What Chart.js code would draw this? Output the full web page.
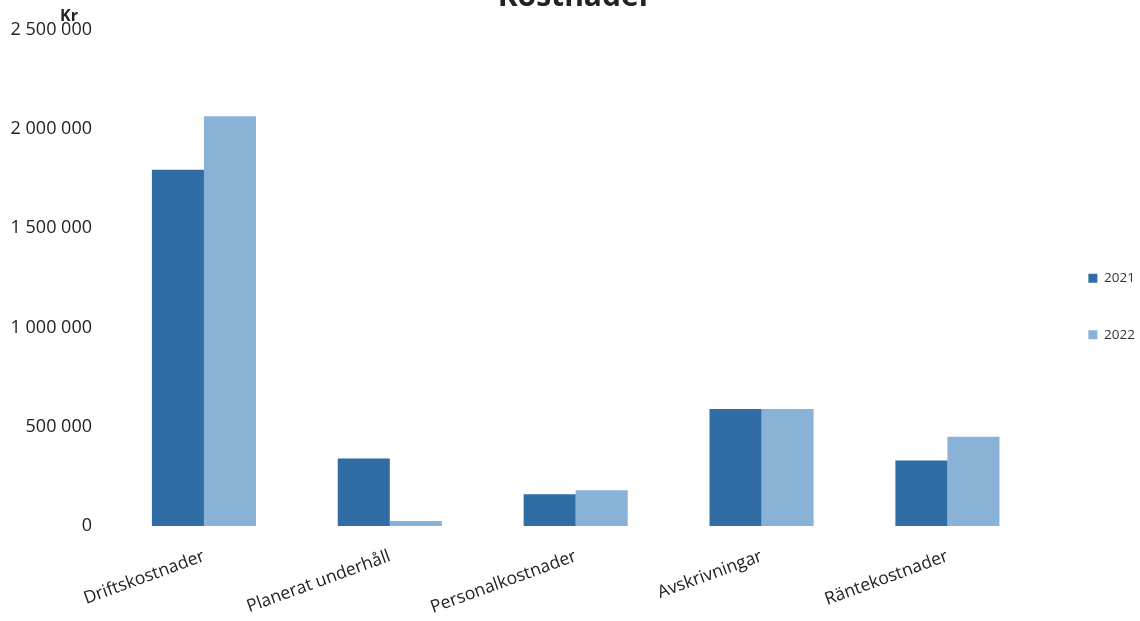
<!DOCTYPE html>
<html>
<head>
<meta charset="utf-8">
<script src="https://cdn.jsdelivr.net/npm/chart.js@4"></script>
<style>
html,body{margin:0;padding:0;background:#fff;}
#wrap{width:1140px;height:621px;position:relative;}
</style>
</head>
<body>
<div id="wrap"><canvas id="c"></canvas></div>
<script>
const categories = ["Driftskostnader", "Planerat underhåll", "Personalkostnader", "Avskrivningar", "Räntekostnader"];
const values2021 = [1795000, 340000, 160000, 590000, 330000];
const values2022 = [2065000, 25000, 180000, 590000, 450000];
const seriesLabels = ["2021", "2022"];
const titleText = "Kostnader";
const unitText = "Kr";

const FONT = "'Open Sans', 'Liberation Sans', sans-serif";

const overlayText = {
  id: 'overlayText',
  afterLayout(chart) {
    const lg = chart.legend;
    if (lg) {
      lg.bottom -= 26;
      lg.height = lg.bottom - lg.top;
      lg.left += 5; lg.right += 5;
    }
  },
  afterDraw(chart) {
    const ctx = chart.ctx;
    ctx.save();
    ctx.fillStyle = '#222';
    ctx.textAlign = 'center';
    ctx.textBaseline = 'alphabetic';
    ctx.font = "bold 30px " + FONT;
    ctx.fillText(titleText, 575, 6);
    ctx.font = "bold 16px " + FONT;
    ctx.fillText(unitText, 69, 21);
    ctx.restore();
  }
};

function fmt(v) {
  return String(v).replace(/\B(?=(\d{3})+(?!\d))/g, ' ');
}

new Chart(document.getElementById('c'), {
  type: 'bar',
  data: {
    labels: categories,
    datasets: [
      { label: seriesLabels[0], data: values2021, backgroundColor: '#2f6da4' },
      { label: seriesLabels[1], data: values2022, backgroundColor: '#88b3d7' }
    ]
  },
  options: {
    responsive: true,
    maintainAspectRatio: false,
    animation: false,
    layout: { padding: { top: 18, right: 0, left: 0, bottom: 0 } },
    datasets: { bar: { categoryPercentage: 0.56, barPercentage: 1.0 } },
    plugins: {
      legend: {
        position: 'right',
        labels: {
          boxWidth: 9, boxHeight: 9, padding: 43,
          color: '#333',
          font: { family: FONT, size: 13.5 }
        }
      },
      tooltip: { enabled: false },
      title: { display: false }
    },
    scales: {
      x: {
        grid: { display: false, drawTicks: false },
        border: { display: false },
        afterFit(scale) { scale.height = 95; },
        ticks: {
          minRotation: 20, maxRotation: 20, padding: 20,
          color: '#222', font: { family: FONT, size: 17.5 }
        }
      },
      y: {
        min: 0, max: 2500000,
        grid: { display: false, drawTicks: false },
        border: { display: false },
        afterFit(scale) { scale.width = 111; },
        ticks: {
          stepSize: 500000, padding: 19,
          color: '#222', font: { family: FONT, size: 18 },
          callback: (v) => fmt(v)
        }
      }
    }
  },
  plugins: [overlayText]
});
</script>
</body>
</html>
